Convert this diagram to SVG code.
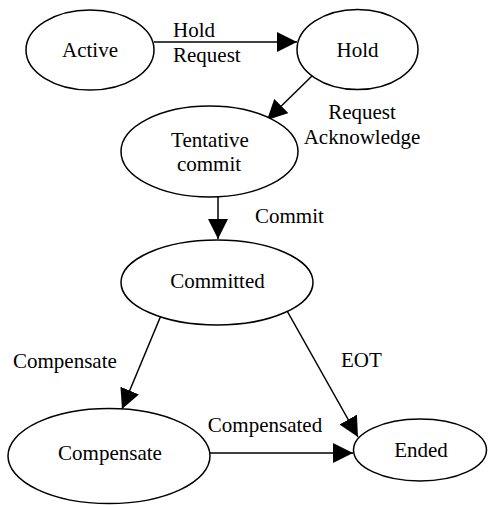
<svg xmlns="http://www.w3.org/2000/svg" width="488" height="505" viewBox="0 0 488 505">
<style>
.n{fill:#fff;stroke:#000;stroke-width:1.5}
.t{font-family:"Liberation Serif","Times New Roman",serif;font-size:21px;fill:#000}
.m{text-anchor:middle}
.e{stroke:#000;stroke-width:1.5;fill:none;marker-end:url(#ah)}
</style>
<defs>
<marker id="ah" markerUnits="userSpaceOnUse" markerWidth="20" markerHeight="20" refX="20" refY="10" orient="auto" viewBox="0 0 20 20">
<path d="M0,0 L20,10 L0,20 z" fill="#000"/>
</marker>
</defs>
<rect width="488" height="505" fill="#fff"/>
<g id="connectors">
<line class="e" x1="154" y1="42" x2="297" y2="42"/>
<line class="e" x1="313" y1="75" x2="267" y2="120"/>
<line class="e" x1="218" y1="197" x2="218" y2="239"/>
<line class="e" x1="162" y1="313" x2="122" y2="409"/>
<line class="e" x1="286" y1="309" x2="358" y2="437"/>
<line class="e" x1="210" y1="453" x2="353" y2="453"/>
<text class="t" x="173" y="37">Hold</text>
<text class="t" x="173" y="62">Request</text>
<text class="t m" x="362" y="119">Request</text>
<text class="t m" x="362" y="144">Acknowledge</text>
<text class="t" x="255" y="223">Commit</text>
<text class="t" x="13" y="368">Compensate</text>
<text class="t" x="341" y="367">EOT</text>
<text class="t m" x="265" y="432">Compensated</text>
</g>
<g id="active">
<ellipse class="n" cx="90" cy="50" rx="64" ry="40"/>
<text class="t m" x="90" y="57">Active</text>
</g>
<g id="hold">
<ellipse class="n" cx="357.5" cy="49.5" rx="60.5" ry="40"/>
<text class="t m" x="357.5" y="57">Hold</text>
</g>
<g id="tentative">
<ellipse class="n" cx="209.5" cy="151.5" rx="88.5" ry="45.5"/>
<text class="t m" x="210" y="147">Tentative</text>
<text class="t m" x="209" y="171">commit</text>
</g>
<g id="committed">
<ellipse class="n" cx="217" cy="282.5" rx="96" ry="42.5"/>
<text class="t m" x="217.5" y="288">Committed</text>
</g>
<g id="compensate">
<ellipse class="n" cx="109" cy="456" rx="101" ry="47.5"/>
<text class="t m" x="110" y="460">Compensate</text>
</g>
<g id="ended">
<ellipse class="n" cx="420" cy="450" rx="66.5" ry="31"/>
<text class="t m" x="421" y="457">Ended</text>
</g>
</svg>
